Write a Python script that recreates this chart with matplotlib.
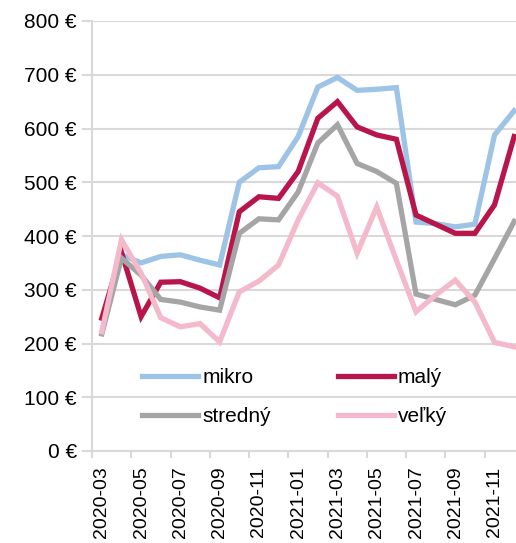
import matplotlib.pyplot as plt
from matplotlib.ticker import FixedLocator, FuncFormatter

plt.rcParams['font.family'] = ['Liberation Sans', 'DejaVu Sans']

months = ['2020-03', '2020-04', '2020-05', '2020-06', '2020-07', '2020-08',
          '2020-09', '2020-10', '2020-11', '2020-12', '2021-01', '2021-02',
          '2021-03', '2021-04', '2021-05', '2021-06', '2021-07', '2021-08',
          '2021-09', '2021-10', '2021-11', '2021-12']

mikro = [220, 365, 350, 362, 365, 355, 346, 500, 527, 529, 585, 677,
         695, 671, 673, 676, 426, 423, 417, 422, 588, 633]
maly = [247, 370, 250, 314, 315, 303, 285, 445, 473, 470, 520, 619,
        650, 603, 588, 580, 439, 422, 405, 405, 458, 585]
stredny = [218, 359, 327, 282, 277, 268, 262, 405, 432, 430, 482, 573,
           607, 535, 520, 498, 292, 282, 272, 290, 358, 427]
velky = [222, 393, 331, 248, 231, 237, 203, 296, 316, 346, 430, 499,
         474, 368, 454, 355, 259, 290, 318, 277, 202, 194]

series = [('mikro', mikro, '#9dc3e6'),
          ('malý', maly, '#b8154a'),
          ('stredný', stredny, '#a5a5a5'),
          ('veľký', velky, '#f4b9cb')]

fig = plt.figure(figsize=(5.16, 5.43), dpi=100)
ax = fig.add_axes([92 / 516, 92 / 543, 432 / 516, 430 / 543])

x = list(range(len(months)))
handles = {}
for name, vals, col in series:
    h, = ax.plot(x, vals, color=col, lw=3.8, solid_joinstyle='miter', label=name)
    handles[name] = h

ax.set_xlim(-0.5, len(months) - 0.5)
ax.set_ylim(0, 800)
ax.set_yticks(range(0, 801, 100))
ax.yaxis.set_major_formatter(FuncFormatter(lambda v, p: f'{int(v)} €'))

ax.set_xticks(x[::2])
ax.set_xticklabels(months[::2], rotation=90)
ax.xaxis.set_minor_locator(FixedLocator([i - 0.5 for i in range(0, len(months) + 1, 2)]))
ax.tick_params(axis='x', which='major', length=0, pad=11, labelsize=14)
ax.tick_params(axis='x', which='minor', length=5, width=1.5, color='#d9d9d9')
ax.tick_params(axis='y', length=7, width=1.5, color='#d9d9d9', labelsize=15, pad=4)

ax.grid(axis='y', color='#d9d9d9', lw=1.5)
ax.set_axisbelow(True)
for s in ['top', 'right']:
    ax.spines[s].set_visible(False)
for s in ['left', 'bottom']:
    ax.spines[s].set_color('#d9d9d9')
    ax.spines[s].set_linewidth(1.5)

leg = ax.legend([handles['mikro'], handles['stredný'], handles['malý'], handles['veľký']],
                ['mikro', 'stredný', 'malý', 'veľký'],
                ncol=2, frameon=False, fontsize=15,
                loc='upper left', bbox_to_anchor=(142 / 516, 1 - 368 / 543),
                bbox_transform=fig.transFigure, borderaxespad=0, borderpad=0,
                handlelength=2.7, handletextpad=0.2, columnspacing=3.2,
                labelspacing=0.95)

fig.savefig('out.png', dpi=100)
